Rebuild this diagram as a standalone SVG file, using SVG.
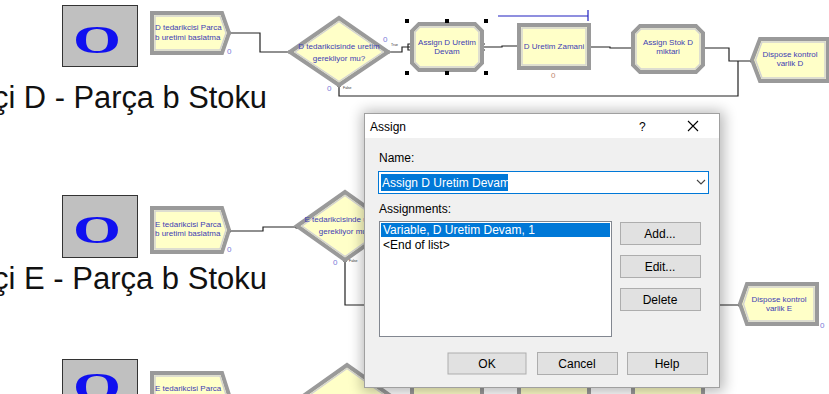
<svg xmlns="http://www.w3.org/2000/svg" width="829" height="394" viewBox="0 0 829 394">
  <defs>
    <style>
      .icon { fill: #c0c0c0; stroke: #333; stroke-width: 1; }
      .ico-o { font-family: "Liberation Serif", serif; font-weight: bold; font-size: 40px; fill: #1010f0; }
      .title { font-family: "Liberation Sans", Arial, sans-serif; font-size: 31px; fill: #111; }
      .mod-out { fill: #ffffc8; stroke: #9a9a9a; stroke-width: 4; stroke-linejoin: miter; }
      .mod-in { fill: none; stroke: #d2d2d2; stroke-width: 1.4; }
      .mtext { font-family: "Liberation Sans", Arial, sans-serif; font-size: 8px; fill: #4040b4; }
      .num { font-family: "Liberation Sans", Arial, sans-serif; font-size: 8px; fill: #7a7ad8; }
      .tiny { font-family: "Liberation Sans", Arial, sans-serif; font-size: 3.5px; fill: #333; }
      .conn { fill: none; stroke: #222; stroke-width: 1.2; }
      .dot { fill: #111; }
      .ui { font-family: "Liberation Sans", Arial, sans-serif; font-size: 12px; fill: #000; }
      .btn { fill: #e1e1e1; stroke: #adadad; stroke-width: 1; }
    </style>
    <filter id="winShadow" x="-20%" y="-20%" width="140%" height="140%">
      <feGaussianBlur stdDeviation="7"/>
    </filter>
  </defs>

  <rect width="829" height="394" fill="#ffffff"/>

  <!-- connectors -->
  <g id="connectors">
    <polyline class="conn" points="229,33 260,33 260,52 290,52"/>
    <polyline class="conn" points="388,52 402,52 402,47 411,47"/>
    <polyline class="conn" points="483,47 502,47 502,46 518,46"/>
    <polyline class="conn" points="589,47 610,47 610,48 633,48"/>
    <polyline class="conn" points="703,48 729,48 729,61 752,61"/>
    <polyline class="conn" points="339,85 339,96 738,96 738,61"/>
    <polyline class="conn" points="229,231 263,231 263,227 297,227"/>
    <polyline class="conn" points="345,260 345,305 740,305"/>
    <!-- timer bar over the process module -->
    <polyline fill="none" stroke="#2020c0" stroke-width="1.2" points="498,16 588,16"/>
    <line x1="588" y1="10" x2="588" y2="21" stroke="#2020c0" stroke-width="1.2"/>
    <rect class="dot" x="227.5" y="31.5" width="3" height="3"/>
    <rect class="dot" x="288.5" y="50.5" width="3" height="3"/>
    <rect class="dot" x="386.5" y="50.5" width="3" height="3"/>
    <rect class="dot" x="337.5" y="84" width="3" height="3"/>
    <rect class="dot" x="587.5" y="45.5" width="3" height="3"/>
    <rect class="dot" x="701.5" y="46.5" width="3" height="3"/>
    <rect class="dot" x="750.5" y="59.5" width="3" height="3"/>
    <rect class="dot" x="227.5" y="229.5" width="3" height="3"/>
    <rect class="dot" x="295.5" y="225.5" width="3" height="3"/>
    <rect class="dot" x="343.5" y="259" width="3" height="3"/>
    <rect class="dot" x="738.5" y="303.5" width="3" height="3"/>
    <path d="M411,44 h-3 v6 h3" class="conn"/>
    <path d="M485,44 h-3 v6 h3" class="conn"/>
  </g>

  <!-- row D -->
  <g id="icon-d">
    <rect class="icon" x="62.5" y="5.5" width="75" height="61"/>
    <text class="ico-o" x="97" y="53" text-anchor="middle" textLength="48" lengthAdjust="spacingAndGlyphs">O</text>
  </g>
  <text class="title" x="-7" y="108" textLength="274" lengthAdjust="spacingAndGlyphs">çi D - Parça b Stoku</text>

  <g id="create-d">
    <polygon class="mod-out" points="152,13 222,13 229,33 222,53 152,53"/>
    <polygon class="mod-in" points="155,16 220,16 226,33 220,50 155,50"/>
    <text class="mtext" x="155" y="30">D tedarikcisi Parca</text>
    <text class="mtext" x="155" y="40">b uretimi baslatma</text>
    <text class="num" x="227" y="54">0</text>
  </g>

  <g id="decide-d">
    <polygon class="mod-out" points="290,52 339,18 388,52 339,85"/>
    <polygon class="mod-in" points="295,52 339,21.5 383,52 339,81.5"/>
    <text class="mtext" x="339" y="49" text-anchor="middle">D tedarikcisinde uretim</text>
    <text class="mtext" x="339" y="61" text-anchor="middle">gerekliyor mu?</text>
    <text class="num" x="383" y="42">0</text>
    <text class="tiny" x="391" y="46">True</text>
    <text class="num" x="327" y="91">0</text>
    <text class="tiny" x="343" y="89">False</text>
  </g>

  <g id="assign-d-devam">
    <polygon class="mod-out" points="419,24 475,24 482,31 482,63 475,70 419,70 412,63 412,31"/>
    <polygon class="mod-in" points="420,27 474,27 479,32 479,62 474,67 420,67 415,62 415,32"/>
    <text class="mtext" x="447" y="45" text-anchor="middle">Assign D Uretim</text>
    <text class="mtext" x="447" y="54" text-anchor="middle">Devam</text>
    <g fill="#000">
      <rect x="405" y="19" width="4" height="4"/>
      <rect x="445" y="19" width="4" height="4"/>
      <rect x="484" y="19" width="4" height="4"/>
      <rect x="405" y="71" width="4" height="4"/>
      <rect x="445" y="71" width="4" height="4"/>
      <rect x="484" y="71" width="4" height="4"/>
    </g>
  </g>

  <g id="process-d">
    <rect class="mod-out" x="519" y="25" width="70" height="43"/>
    <rect class="mod-in" x="522" y="28" width="64" height="37"/>
    <text class="mtext" x="554" y="49" text-anchor="middle">D Uretim Zamani</text>
    <text class="num" x="551" y="78" style="fill:#c08870">0</text>
  </g>

  <g id="assign-stok-d">
    <polygon class="mod-out" points="640,26 696,26 703,33 703,65 696,72 640,72 633,65 633,33"/>
    <polygon class="mod-in" points="641,29 695,29 700,34 700,64 695,69 641,69 636,64 636,34"/>
    <text class="mtext" x="668" y="45" text-anchor="middle">Assign Stok D</text>
    <text class="mtext" x="668" y="54" text-anchor="middle">miktari</text>
  </g>

  <g id="dispose-d">
    <polygon class="mod-out" points="760,39 828,39 828,81 760,81 752,60"/>
    <polygon class="mod-in" points="762,42 825,42 825,78 762,78 755.5,60"/>
    <text class="mtext" x="790" y="57" text-anchor="middle">Dispose kontrol</text>
    <text class="mtext" x="790" y="66" text-anchor="middle">varlik D</text>
  </g>

  <!-- row E -->
  <g id="icon-e">
    <rect class="icon" x="62.5" y="195.5" width="75" height="62"/>
    <text class="ico-o" x="97" y="243" text-anchor="middle" textLength="48" lengthAdjust="spacingAndGlyphs">O</text>
  </g>
  <text class="title" x="-7" y="289" textLength="274" lengthAdjust="spacingAndGlyphs">çi E - Parça b Stoku</text>

  <g id="create-e">
    <polygon class="mod-out" points="152,208 222,208 229,230 222,252 152,252"/>
    <polygon class="mod-in" points="155,211 220,211 226,230 220,249 155,249"/>
    <text class="mtext" x="155" y="227">E tedarikcisi Parca</text>
    <text class="mtext" x="155" y="236">b uretimi baslatma</text>
    <text class="num" x="227" y="252">0</text>
  </g>

  <g id="decide-e">
    <polygon class="mod-out" points="297,226 345,192 393,226 345,260"/>
    <polygon class="mod-in" points="302,226 345,195.5 388,226 345,256.5"/>
    <text class="mtext" x="345" y="222" text-anchor="middle">E tedarikcisinde uretim</text>
    <text class="mtext" x="345" y="234" text-anchor="middle">gerekliyor mu?</text>
    <text class="num" x="333" y="265">0</text>
    <text class="tiny" x="349" y="262">False</text>
  </g>

  <g id="dispose-e">
    <polygon class="mod-out" points="747,284 817,284 817,324 747,324 740,304"/>
    <polygon class="mod-in" points="749,287 814,287 814,321 749,321 743.5,304"/>
    <text class="mtext" x="779" y="302" text-anchor="middle">Dispose kontrol</text>
    <text class="mtext" x="779" y="311" text-anchor="middle">varlik E</text>
    <text class="num" x="820" y="328">0</text>
  </g>

  <!-- third row, running off the bottom of the sheet -->
  <g id="icon-f">
    <rect class="icon" x="62.5" y="359.5" width="75" height="50"/>
    <text class="ico-o" x="97" y="400" text-anchor="middle" textLength="48" lengthAdjust="spacingAndGlyphs">O</text>
  </g>
  <g id="create-f">
    <polygon class="mod-out" points="152,373 222,373 229,395 222,417 152,417"/>
    <polygon class="mod-in" points="155,376 220,376 226,395 220,414 155,414"/>
    <text class="mtext" x="155" y="391">E tedarikcisi Parca</text>
  </g>
  <g id="decide-f">
    <polygon class="mod-out" points="299,399 347,365 395,399 347,433"/>
    <polygon class="mod-in" points="304,399 347,368.5 390,399 347,429.5"/>
  </g>
  <g id="assign-f">
    <polygon class="mod-out" points="419,378 475,378 482,385 482,417 475,424 419,424 412,417 412,385"/>
  </g>
  <g id="process-f">
    <rect class="mod-out" x="519" y="380" width="70" height="43"/>
  </g>
  <g id="assign-stok-f">
    <polygon class="mod-out" points="640,380 696,380 703,387 703,419 696,426 640,426 633,419 633,387"/>
  </g>

  <!-- Assign dialog window -->
  <g id="assign-dialog">
    <rect x="362" y="111" width="362" height="281" fill="#000" opacity="0.28" filter="url(#winShadow)"/>
    <rect x="364.5" y="113.5" width="355" height="274" fill="#f0f0f0" stroke="#a0a0a0" stroke-width="1"/>
    <rect x="365" y="114" width="354" height="24" fill="#ffffff"/>
    <text class="ui" x="370" y="131">Assign</text>
    <text class="ui" x="639" y="131" font-size="13">?</text>
    <path d="M688,121 l10,10 M698,121 l-10,10" stroke="#000" stroke-width="1.1" fill="none"/>

    <text class="ui" x="379" y="162">Name:</text>
    <rect x="378.5" y="171.5" width="330" height="22" fill="#fff" stroke="#0078d7" stroke-width="1"/>
    <rect x="381" y="174" width="127" height="17" fill="#0078d7"/>
    <text class="ui" x="382" y="187" style="fill:#fff">Assign D Uretim Devam</text>
    <polyline points="697,180 701,184 705,180" fill="none" stroke="#444" stroke-width="1.1"/>

    <text class="ui" x="379" y="213">Assignments:</text>
    <rect x="379.5" y="221.5" width="232" height="115" fill="#fff" stroke="#828790" stroke-width="1"/>
    <rect x="381" y="223" width="229" height="14" fill="#0078d7"/>
    <text class="ui" x="383" y="234" style="fill:#fff">Variable, D Uretim Devam, 1</text>
    <text class="ui" x="383" y="249">&lt;End of list&gt;</text>

    <rect class="btn" x="620.5" y="222.5" width="80" height="22"/>
    <text class="ui" x="660" y="238" text-anchor="middle">Add...</text>
    <rect class="btn" x="620.5" y="255.5" width="80" height="22"/>
    <text class="ui" x="660" y="271" text-anchor="middle">Edit...</text>
    <rect class="btn" x="620.5" y="288.5" width="80" height="22"/>
    <text class="ui" x="660" y="304" text-anchor="middle">Delete</text>

    <rect class="btn" x="448" y="353" width="78" height="21" stroke="#0078d7" stroke-width="2"/>
    <text class="ui" x="487" y="368" text-anchor="middle">OK</text>
    <rect class="btn" x="537.5" y="352.5" width="80" height="22"/>
    <text class="ui" x="577" y="368" text-anchor="middle">Cancel</text>
    <rect class="btn" x="627.5" y="352.5" width="80" height="22"/>
    <text class="ui" x="667" y="368" text-anchor="middle">Help</text>
  </g>
</svg>
